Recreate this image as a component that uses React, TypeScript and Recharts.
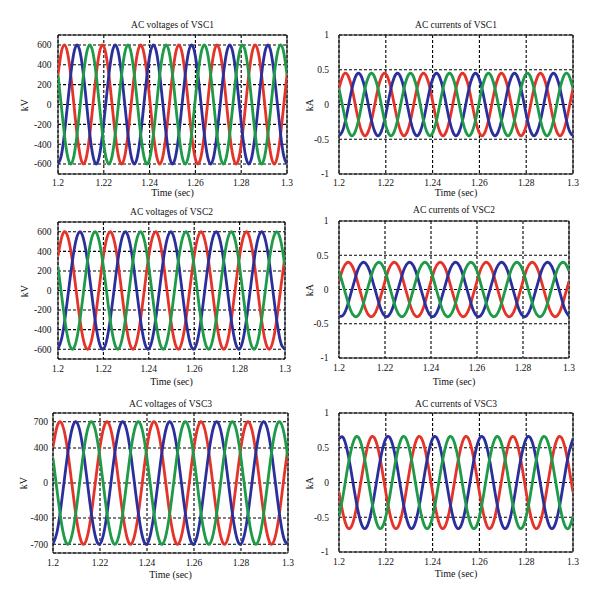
import { LineChart, Line, XAxis, YAxis, CartesianGrid, ReferenceArea } from "recharts";

// sample times (sec) - 60 Hz panel sampled 12 points per cycle
const t60 = [
  1.2, 1.20139, 1.20278, 1.20417, 1.20556, 1.20694, 1.20833, 1.20972, 1.21111, 1.2125, 1.21389, 1.21528,
  1.21667, 1.21806, 1.21944, 1.22083, 1.22222, 1.22361, 1.225, 1.22639, 1.22778, 1.22917, 1.23056, 1.23194,
  1.23333, 1.23472, 1.23611, 1.2375, 1.23889, 1.24028, 1.24167, 1.24306, 1.24444, 1.24583, 1.24722, 1.24861,
  1.25, 1.25139, 1.25278, 1.25417, 1.25556, 1.25694, 1.25833, 1.25972, 1.26111, 1.2625, 1.26389, 1.26528,
  1.26667, 1.26806, 1.26944, 1.27083, 1.27222, 1.27361, 1.275, 1.27639, 1.27778, 1.27917, 1.28056, 1.28194,
  1.28333, 1.28472, 1.28611, 1.2875, 1.28889, 1.29028, 1.29167, 1.29306, 1.29444, 1.29583, 1.29722, 1.29861,
  1.3,
];

// 50 Hz panels, 12 points per cycle
const t50 = [
  1.2, 1.20167, 1.20333, 1.205, 1.20667, 1.20833, 1.21, 1.21167, 1.21333, 1.215, 1.21667, 1.21833,
  1.22, 1.22167, 1.22333, 1.225, 1.22667, 1.22833, 1.23, 1.23167, 1.23333, 1.235, 1.23667, 1.23833,
  1.24, 1.24167, 1.24333, 1.245, 1.24667, 1.24833, 1.25, 1.25167, 1.25333, 1.255, 1.25667, 1.25833,
  1.26, 1.26167, 1.26333, 1.265, 1.26667, 1.26833, 1.27, 1.27167, 1.27333, 1.275, 1.27667, 1.27833,
  1.28, 1.28167, 1.28333, 1.285, 1.28667, 1.28833, 1.29, 1.29167, 1.29333, 1.295, 1.29667, 1.29833,
  1.3,
];

const timeTicks = [1.2, 1.22, 1.24, 1.26, 1.28, 1.3];
const kvTicks = [-600, -400, -200, 0, 200, 400, 600];
const kv3Ticks = [-700, -400, 0, 400, 700];
const kaTicks = [-1, -0.5, 0, 0.5, 1];

// VSC1 voltages (kV)
const v1Red = [
  300, 520, 600, 520, 300, 0, -300, -520, -600, -520, -300, 0,
  300, 520, 600, 520, 300, 0, -300, -520, -600, -520, -300, 0,
  300, 520, 600, 520, 300, 0, -300, -520, -600, -520, -300, 0,
  300, 520, 600, 520, 300, 0, -300, -520, -600, -520, -300, 0,
  300, 520, 600, 520, 300, 0, -300, -520, -600, -520, -300, 0,
  300, 520, 600, 520, 300, 0, -300, -520, -600, -520, -300, 0,
  300,
];
const v1Blue = [
  -600, -520, -300, 0, 300, 520, 600, 520, 300, 0, -300, -520,
  -600, -520, -300, 0, 300, 520, 600, 520, 300, 0, -300, -520,
  -600, -520, -300, 0, 300, 520, 600, 520, 300, 0, -300, -520,
  -600, -520, -300, 0, 300, 520, 600, 520, 300, 0, -300, -520,
  -600, -520, -300, 0, 300, 520, 600, 520, 300, 0, -300, -520,
  -600, -520, -300, 0, 300, 520, 600, 520, 300, 0, -300, -520,
  -600,
];
const v1Green = [
  300, 0, -300, -520, -600, -520, -300, 0, 300, 520, 600, 520,
  300, 0, -300, -520, -600, -520, -300, 0, 300, 520, 600, 520,
  300, 0, -300, -520, -600, -520, -300, 0, 300, 520, 600, 520,
  300, 0, -300, -520, -600, -520, -300, 0, 300, 520, 600, 520,
  300, 0, -300, -520, -600, -520, -300, 0, 300, 520, 600, 520,
  300, 0, -300, -520, -600, -520, -300, 0, 300, 520, 600, 520,
  300,
];

// VSC1 currents (kA)
const i1Red = [
  0.23, 0.39, 0.45, 0.39, 0.23, 0, -0.23, -0.39, -0.45, -0.39, -0.23, 0,
  0.23, 0.39, 0.45, 0.39, 0.23, 0, -0.23, -0.39, -0.45, -0.39, -0.23, 0,
  0.23, 0.39, 0.45, 0.39, 0.23, 0, -0.23, -0.39, -0.45, -0.39, -0.23, 0,
  0.23, 0.39, 0.45, 0.39, 0.23, 0, -0.23, -0.39, -0.45, -0.39, -0.23, 0,
  0.23, 0.39, 0.45, 0.39, 0.23, 0, -0.23, -0.39, -0.45, -0.39, -0.23, 0,
  0.23, 0.39, 0.45, 0.39, 0.23, 0, -0.23, -0.39, -0.45, -0.39, -0.23, 0,
  0.23,
];
const i1Blue = [
  -0.45, -0.39, -0.23, 0, 0.23, 0.39, 0.45, 0.39, 0.23, 0, -0.23, -0.39,
  -0.45, -0.39, -0.23, 0, 0.23, 0.39, 0.45, 0.39, 0.23, 0, -0.23, -0.39,
  -0.45, -0.39, -0.23, 0, 0.23, 0.39, 0.45, 0.39, 0.23, 0, -0.23, -0.39,
  -0.45, -0.39, -0.23, 0, 0.23, 0.39, 0.45, 0.39, 0.23, 0, -0.23, -0.39,
  -0.45, -0.39, -0.23, 0, 0.23, 0.39, 0.45, 0.39, 0.23, 0, -0.23, -0.39,
  -0.45, -0.39, -0.23, 0, 0.23, 0.39, 0.45, 0.39, 0.23, 0, -0.23, -0.39,
  -0.45,
];
const i1Green = [
  0.23, 0, -0.23, -0.39, -0.45, -0.39, -0.23, 0, 0.23, 0.39, 0.45, 0.39,
  0.23, 0, -0.23, -0.39, -0.45, -0.39, -0.23, 0, 0.23, 0.39, 0.45, 0.39,
  0.23, 0, -0.23, -0.39, -0.45, -0.39, -0.23, 0, 0.23, 0.39, 0.45, 0.39,
  0.23, 0, -0.23, -0.39, -0.45, -0.39, -0.23, 0, 0.23, 0.39, 0.45, 0.39,
  0.23, 0, -0.23, -0.39, -0.45, -0.39, -0.23, 0, 0.23, 0.39, 0.45, 0.39,
  0.23, 0, -0.23, -0.39, -0.45, -0.39, -0.23, 0, 0.23, 0.39, 0.45, 0.39,
  0.23,
];

// VSC2 voltages (kV)
const v2Red = [
  353, 548, 597, 485, 244, -63, -353, -548, -597, -485, -244, 63,
  353, 548, 597, 485, 244, -63, -353, -548, -597, -485, -244, 63,
  353, 548, 597, 485, 244, -63, -353, -548, -597, -485, -244, 63,
  353, 548, 597, 485, 244, -63, -353, -548, -597, -485, -244, 63,
  353, 548, 597, 485, 244, -63, -353, -548, -597, -485, -244, 63,
  353,
];
const v2Blue = [
  -597, -485, -244, 63, 353, 548, 597, 485, 244, -63, -353, -548,
  -597, -485, -244, 63, 353, 548, 597, 485, 244, -63, -353, -548,
  -597, -485, -244, 63, 353, 548, 597, 485, 244, -63, -353, -548,
  -597, -485, -244, 63, 353, 548, 597, 485, 244, -63, -353, -548,
  -597, -485, -244, 63, 353, 548, 597, 485, 244, -63, -353, -548,
  -597,
];
const v2Green = [
  244, -63, -353, -548, -597, -485, -244, 63, 353, 548, 597, 485,
  244, -63, -353, -548, -597, -485, -244, 63, 353, 548, 597, 485,
  244, -63, -353, -548, -597, -485, -244, 63, 353, 548, 597, 485,
  244, -63, -353, -548, -597, -485, -244, 63, 353, 548, 597, 485,
  244, -63, -353, -548, -597, -485, -244, 63, 353, 548, 597, 485,
  244,
];

// VSC2 currents (kA)
const i2Red = [
  0.12, 0.3, 0.39, 0.38, 0.27, 0.08, -0.12, -0.3, -0.39, -0.38, -0.27, -0.08,
  0.12, 0.3, 0.39, 0.38, 0.27, 0.08, -0.12, -0.3, -0.39, -0.38, -0.27, -0.08,
  0.12, 0.3, 0.39, 0.38, 0.27, 0.08, -0.12, -0.3, -0.39, -0.38, -0.27, -0.08,
  0.12, 0.3, 0.39, 0.38, 0.27, 0.08, -0.12, -0.3, -0.39, -0.38, -0.27, -0.08,
  0.12, 0.3, 0.39, 0.38, 0.27, 0.08, -0.12, -0.3, -0.39, -0.38, -0.27, -0.08,
  0.12,
];
const i2Blue = [
  -0.39, -0.38, -0.27, -0.08, 0.12, 0.3, 0.39, 0.38, 0.27, 0.08, -0.12, -0.3,
  -0.39, -0.38, -0.27, -0.08, 0.12, 0.3, 0.39, 0.38, 0.27, 0.08, -0.12, -0.3,
  -0.39, -0.38, -0.27, -0.08, 0.12, 0.3, 0.39, 0.38, 0.27, 0.08, -0.12, -0.3,
  -0.39, -0.38, -0.27, -0.08, 0.12, 0.3, 0.39, 0.38, 0.27, 0.08, -0.12, -0.3,
  -0.39, -0.38, -0.27, -0.08, 0.12, 0.3, 0.39, 0.38, 0.27, 0.08, -0.12, -0.3,
  -0.39,
];
const i2Green = [
  0.27, 0.08, -0.12, -0.3, -0.39, -0.38, -0.27, -0.08, 0.12, 0.3, 0.39, 0.38,
  0.27, 0.08, -0.12, -0.3, -0.39, -0.38, -0.27, -0.08, 0.12, 0.3, 0.39, 0.38,
  0.27, 0.08, -0.12, -0.3, -0.39, -0.38, -0.27, -0.08, 0.12, 0.3, 0.39, 0.38,
  0.27, 0.08, -0.12, -0.3, -0.39, -0.38, -0.27, -0.08, 0.12, 0.3, 0.39, 0.38,
  0.27, 0.08, -0.12, -0.3, -0.39, -0.38, -0.27, -0.08, 0.12, 0.3, 0.39, 0.38,
  0.27,
];

// VSC3 voltages (kV)
const v3Red = [
  412, 640, 697, 566, 285, -74, -412, -640, -697, -566, -285, 74,
  412, 640, 697, 566, 285, -74, -412, -640, -697, -566, -285, 74,
  412, 640, 697, 566, 285, -74, -412, -640, -697, -566, -285, 74,
  412, 640, 697, 566, 285, -74, -412, -640, -697, -566, -285, 74,
  412, 640, 697, 566, 285, -74, -412, -640, -697, -566, -285, 74,
  412,
];
const v3Blue = [
  -697, -566, -285, 74, 412, 640, 697, 566, 285, -74, -412, -640,
  -697, -566, -285, 74, 412, 640, 697, 566, 285, -74, -412, -640,
  -697, -566, -285, 74, 412, 640, 697, 566, 285, -74, -412, -640,
  -697, -566, -285, 74, 412, 640, 697, 566, 285, -74, -412, -640,
  -697, -566, -285, 74, 412, 640, 697, 566, 285, -74, -412, -640,
  -697,
];
const v3Green = [
  285, -74, -412, -640, -697, -566, -285, 74, 412, 640, 697, 566,
  285, -74, -412, -640, -697, -566, -285, 74, 412, 640, 697, 566,
  285, -74, -412, -640, -697, -566, -285, 74, 412, 640, 697, 566,
  285, -74, -412, -640, -697, -566, -285, 74, 412, 640, 697, 566,
  285, -74, -412, -640, -697, -566, -285, 74, 412, 640, 697, 566,
  285,
];

// VSC3 currents (kA)
const i3Red = [
  -0.14, -0.44, -0.63, -0.65, -0.49, -0.2, 0.14, 0.44, 0.63, 0.65, 0.49, 0.2,
  -0.14, -0.44, -0.63, -0.65, -0.49, -0.2, 0.14, 0.44, 0.63, 0.65, 0.49, 0.2,
  -0.14, -0.44, -0.63, -0.65, -0.49, -0.2, 0.14, 0.44, 0.63, 0.65, 0.49, 0.2,
  -0.14, -0.44, -0.63, -0.65, -0.49, -0.2, 0.14, 0.44, 0.63, 0.65, 0.49, 0.2,
  -0.14, -0.44, -0.63, -0.65, -0.49, -0.2, 0.14, 0.44, 0.63, 0.65, 0.49, 0.2,
  -0.14,
];
const i3Blue = [
  0.63, 0.65, 0.49, 0.2, -0.14, -0.44, -0.63, -0.65, -0.49, -0.2, 0.14, 0.44,
  0.63, 0.65, 0.49, 0.2, -0.14, -0.44, -0.63, -0.65, -0.49, -0.2, 0.14, 0.44,
  0.63, 0.65, 0.49, 0.2, -0.14, -0.44, -0.63, -0.65, -0.49, -0.2, 0.14, 0.44,
  0.63, 0.65, 0.49, 0.2, -0.14, -0.44, -0.63, -0.65, -0.49, -0.2, 0.14, 0.44,
  0.63, 0.65, 0.49, 0.2, -0.14, -0.44, -0.63, -0.65, -0.49, -0.2, 0.14, 0.44,
  0.63,
];
const i3Green = [
  -0.49, -0.2, 0.14, 0.44, 0.63, 0.65, 0.49, 0.2, -0.14, -0.44, -0.63, -0.65,
  -0.49, -0.2, 0.14, 0.44, 0.63, 0.65, 0.49, 0.2, -0.14, -0.44, -0.63, -0.65,
  -0.49, -0.2, 0.14, 0.44, 0.63, 0.65, 0.49, 0.2, -0.14, -0.44, -0.63, -0.65,
  -0.49, -0.2, 0.14, 0.44, 0.63, 0.65, 0.49, 0.2, -0.14, -0.44, -0.63, -0.65,
  -0.49, -0.2, 0.14, 0.44, 0.63, 0.65, 0.49, 0.2, -0.14, -0.44, -0.63, -0.65,
  -0.49,
];

const RED = "#e4342a";
const BLUE = "#2b2f9c";
const GREEN = "#1f9a48";
const FONT = '"Liberation Serif", "Times New Roman", serif';
const FS = 9.5;
const INK = "#111";

function toRows(time: number[], a: number[], b: number[], c: number[]) {
  return time.map((t, i) => ({ t, a: a[i], b: b[i], c: c[i] }));
}

type PanelProps = {
  title: string;
  unit: string;
  rows: { t: number; a: number; b: number; c: number }[];
  domain: [number, number];
  ticks: number[];
  box: [number, number, number, number];
  plot: [number, number, number, number];
  titleY: number;
  xlabY: number;
  unitX: number;
  yGap: number;
  xGap: number;
};

function Panel(p: PanelProps) {
  const [bx, by, bw, bh] = p.box;
  const [x0, y0, x1, y1] = p.plot;
  const yAxisW = 30;
  const xAxisH = 20;
  const cx = (x0 + x1) / 2 - bx;
  const cy = (y0 + y1) / 2 - by;
  const tickStyle = { fill: INK, fontSize: FS, fontFamily: FONT };

  return (
    <div style={{ position: "absolute", left: bx, top: by, width: bw, height: bh }}>
      <LineChart
        width={bw}
        height={bh}
        data={p.rows}
        margin={{ top: y0 - by, right: bx + bw - x1, bottom: by + bh - y1 - xAxisH, left: x0 - bx - yAxisW }}
      >
        <CartesianGrid stroke="#000" strokeDasharray="3 2" strokeWidth={1.1} />
        <XAxis
          dataKey="t"
          type="number"
          domain={[1.2, 1.3]}
          ticks={timeTicks}
          interval={0}
          tickFormatter={(v: number) => String(Number(v.toFixed(2)))}
          tickSize={0}
          tickMargin={p.xGap}
          axisLine={false}
          height={xAxisH}
          tick={tickStyle}
          allowDataOverflow
        />
        <YAxis
          type="number"
          domain={p.domain}
          ticks={p.ticks}
          interval={0}
          tickSize={0}
          tickMargin={p.yGap}
          axisLine={false}
          width={yAxisW}
          tick={tickStyle}
          allowDataOverflow
        />
        <Line type="natural" dataKey="a" stroke={RED} strokeWidth={2.8} dot={false} isAnimationActive={false} />
        <Line type="natural" dataKey="b" stroke={BLUE} strokeWidth={2.8} dot={false} isAnimationActive={false} />
        <Line type="natural" dataKey="c" stroke={GREEN} strokeWidth={2.8} dot={false} isAnimationActive={false} />
        <ReferenceArea
          x1={1.2}
          x2={1.3}
          y1={p.domain[0]}
          y2={p.domain[1]}
          fill="none"
          stroke="#111"
          strokeWidth={1}
          ifOverflow="visible"
        />
      </LineChart>
      <div
        style={{
          position: "absolute", left: cx - 100, width: 200, top: p.titleY - by - 7, height: 14,
          lineHeight: "14px", textAlign: "center", fontSize: FS, fontFamily: FONT, color: INK,
        }}
      >
        {p.title}
      </div>
      <div
        style={{
          position: "absolute", left: cx - 60, width: 120, top: p.xlabY - by - 7, height: 14,
          lineHeight: "14px", textAlign: "center", fontSize: 10, fontFamily: FONT, color: INK,
        }}
      >
        Time (sec)
      </div>
      <div
        style={{
          position: "absolute", left: p.unitX - bx - 20, width: 40, top: cy - 7, height: 14,
          lineHeight: "14px", textAlign: "center", fontSize: 10, fontFamily: FONT, color: INK,
          transform: "rotate(-90deg)",
        }}
      >
        {p.unit}
      </div>
    </div>
  );
}

export default function App() {
  return (
    <div style={{ position: "absolute", left: 0, top: 0, width: 600, height: 601, background: "#fff" }}>
      <Panel
        title="AC voltages of VSC1" unit="kV" rows={toRows(t60, v1Red, v1Blue, v1Green)}
        domain={[-700, 700]} ticks={kvTicks}
        box={[0, 0, 300, 200]} plot={[58, 35, 287, 174]}
        titleY={25} xlabY={193} unitX={25} yGap={6.5} xGap={5}
      />
      <Panel
        title="AC currents of VSC1" unit="kA" rows={toRows(t60, i1Red, i1Blue, i1Green)}
        domain={[-1, 1]} ticks={kaTicks}
        box={[300, 0, 300, 200]} plot={[339, 35, 573, 174]}
        titleY={25} xlabY={193} unitX={310} yGap={10} xGap={5}
      />
      <Panel
        title="AC voltages of VSC2" unit="kV" rows={toRows(t50, v2Red, v2Blue, v2Green)}
        domain={[-700, 700]} ticks={kvTicks}
        box={[0, 200, 300, 200]} plot={[58, 222, 285, 359]}
        titleY={212} xlabY={382} unitX={25} yGap={6.5} xGap={6}
      />
      <Panel
        title="AC currents of VSC2" unit="kA" rows={toRows(t50, i2Red, i2Blue, i2Green)}
        domain={[-1, 1]} ticks={kaTicks}
        box={[300, 200, 300, 200]} plot={[339, 221, 569, 358]}
        titleY={210} xlabY={382} unitX={310} yGap={10.5} xGap={6}
      />
      <Panel
        title="AC voltages of VSC3" unit="kV" rows={toRows(t50, v3Red, v3Blue, v3Green)}
        domain={[-800, 800]} ticks={kv3Ticks}
        box={[0, 400, 300, 201]} plot={[53, 413, 288, 553]}
        titleY={403.5} xlabY={575} unitX={24} yGap={5} xGap={6}
      />
      <Panel
        title="AC currents of VSC3" unit="kA" rows={toRows(t50, i3Red, i3Blue, i3Green)}
        domain={[-1, 1]} ticks={kaTicks}
        box={[300, 400, 300, 201]} plot={[339, 413, 573, 552]}
        titleY={404} xlabY={574} unitX={310} yGap={10} xGap={6}
      />
    </div>
  );
}
